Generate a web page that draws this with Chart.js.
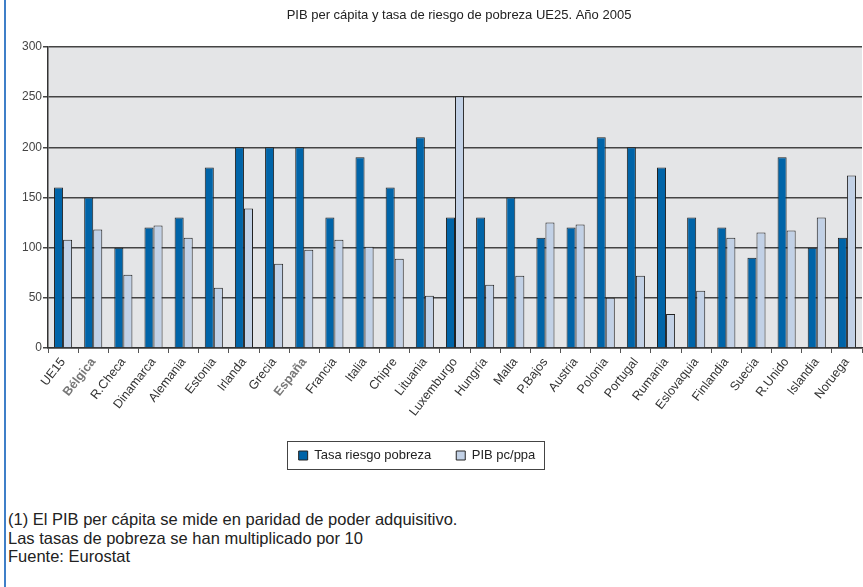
<!DOCTYPE html>
<html>
<head>
<meta charset="utf-8">
<script src="https://cdn.jsdelivr.net/npm/chart.js@4/dist/chart.umd.min.js"></script>
<style>
  body { margin: 0; background: #fff; width: 863px; height: 587px; overflow: hidden; position: relative;
         font-family: "Liberation Sans", Arial, sans-serif; }
  #frame { position: absolute; left: 4px; top: 0; width: 2px; height: 587px; background: #3f7fc8; }
  #chart { position: absolute; left: 0; top: 0; }
  #notes { position: absolute; left: 8px; top: 510px; font-size: 16.5px; line-height: 18.5px; color: #222; }
</style>
</head>
<body>
<div id="frame"></div>
<canvas id="chart" width="863" height="472"></canvas>
<div id="notes">
  (1) El PIB per cápita se mide en paridad de poder adquisitivo.<br>
  Las tasas de pobreza se han multiplicado por 10<br>
  Fuente: Eurostat
</div>
<script>
const titleText = 'PIB per cápita y tasa de riesgo de pobreza UE25. Año 2005';

const countries = ['UE15', 'Bélgica', 'R.Checa', 'Dinamarca', 'Alemania', 'Estonia', 'Irlanda', 'Grecia',
  'España', 'Francia', 'Italia', 'Chipre', 'Lituania', 'Luxemburgo', 'Hungría', 'Malta', 'P.Bajos',
  'Austria', 'Polonia', 'Portugal', 'Rumania', 'Eslovaquia', 'Finlandia', 'Suecia', 'R.Unido',
  'Islandia', 'Noruega'];

// tasa de riesgo de pobreza (x10)
const povertyRate = [160, 150, 100, 120, 130, 180, 200, 200, 200, 130, 190, 160, 210, 130, 130, 150,
  110, 120, 210, 200, 180, 130, 120, 90, 190, 100, 110];

// PIB per cápita en ppa
const gdpPpa = [108, 118, 73, 122, 110, 60, 139, 84, 98, 108, 101, 89, 52, 251, 63, 72,
  125, 123, 50, 72, 34, 57, 110, 115, 117, 130, 172];

const yTicks = [0, 50, 100, 150, 200, 250, 300];
const highlighted = ['Bélgica', 'España'];

// fondo gris del área de trazado
const plotBg = {
  id: 'plotBg',
  beforeDraw(chart) {
    const { ctx, chartArea: a } = chart;
    ctx.save();
    ctx.fillStyle = '#e4e5e7';
    ctx.fillRect(a.left, a.top, a.right - a.left, a.bottom - a.top);
    ctx.restore();
  }
};

// título centrado sobre el área de trazado
const plotTitle = {
  id: 'plotTitle',
  afterDraw(chart) {
    const { ctx, chartArea: a } = chart;
    ctx.save();
    ctx.font = '13px "Liberation Sans", Arial, sans-serif';
    ctx.fillStyle = '#222';
    ctx.textAlign = 'center';
    ctx.textBaseline = 'middle';
    ctx.fillText(titleText, (a.left + a.right) / 2 + 4, 15);
    ctx.restore();
  }
};

// leyenda algo desplazada a la izquierda, con marco
const legendFrame = {
  id: 'legendFrame',
  afterLayout(chart) {
    chart.legend.left -= 14;
    chart.legend.right -= 14;
  },
  afterDraw(chart) {
    const boxes = chart.legend.legendHitBoxes;
    if (!boxes || !boxes.length) return;
    const l = Math.min(...boxes.map(b => b.left)) - 12;
    const r = Math.max(...boxes.map(b => b.left + b.width)) + 8;
    const t = Math.min(...boxes.map(b => b.top)) - 8;
    const btm = Math.max(...boxes.map(b => b.top + b.height)) + 7;
    const ctx = chart.ctx;
    ctx.save();
    ctx.strokeStyle = '#444';
    ctx.lineWidth = 1;
    ctx.strokeRect(Math.round(l) + 0.5, Math.round(t) + 0.5, Math.round(r - l), Math.round(btm - t));
    ctx.restore();
  }
};

new Chart(document.getElementById('chart'), {
  type: 'bar',
  data: {
    labels: countries,
    datasets: [
      {
        label: 'Tasa riesgo pobreza',
        data: povertyRate,
        backgroundColor: '#0064a8',
        borderColor: '#222',
        borderWidth: 1,
        barPercentage: 1,
        categoryPercentage: 0.6
      },
      {
        label: 'PIB pc/ppa',
        data: gdpPpa,
        backgroundColor: '#c2d1e6',
        borderColor: '#222',
        borderWidth: 1,
        barPercentage: 1,
        categoryPercentage: 0.6
      }
    ]
  },
  options: {
    responsive: false,
    animation: false,
    devicePixelRatio: 1,
    layout: { padding: { top: 47, right: 1, left: 0, bottom: 0 } },
    plugins: {
      title: { display: false },
      tooltip: { enabled: false },
      legend: {
        position: 'bottom',
        labels: {
          boxWidth: 9,
          boxHeight: 9,
          padding: 25,
          color: '#222',
          font: { size: 13, family: '"Liberation Sans", Arial, sans-serif' }
        }
      }
    },
    scales: {
      x: {
        offset: true,
        grid: { display: true, drawOnChartArea: false, drawTicks: true, tickLength: 5, color: '#555' },
        border: { display: true, color: '#333', width: 1.5 },
        ticks: {
          autoSkip: false,
          maxRotation: 52,
          minRotation: 52,
          padding: 2,
          color: c => highlighted.includes(countries[c.index]) ? '#777' : '#333',
          font: c => ({
            size: 12.5,
            family: '"Liberation Sans", Arial, sans-serif',
            weight: highlighted.includes(countries[c.index]) ? 'bold' : 'normal'
          })
        },
        afterFit: s => { s.height = 76; }
      },
      y: {
        min: 0,
        max: 300,
        afterBuildTicks: s => { s.ticks = yTicks.map(v => ({ value: v })); },
        grid: { color: '#444', lineWidth: 1.5, tickLength: 5 },
        border: { display: true, color: '#333', width: 1.5 },
        ticks: {
          padding: 1,
          color: '#444',
          font: { size: 12, family: '"Liberation Sans Narrow", "Liberation Sans", Arial, sans-serif' }
        },
        afterFit: s => { s.width = 48; }
      }
    }
  },
  plugins: [plotBg, plotTitle, legendFrame]
});
</script>
</body>
</html>
